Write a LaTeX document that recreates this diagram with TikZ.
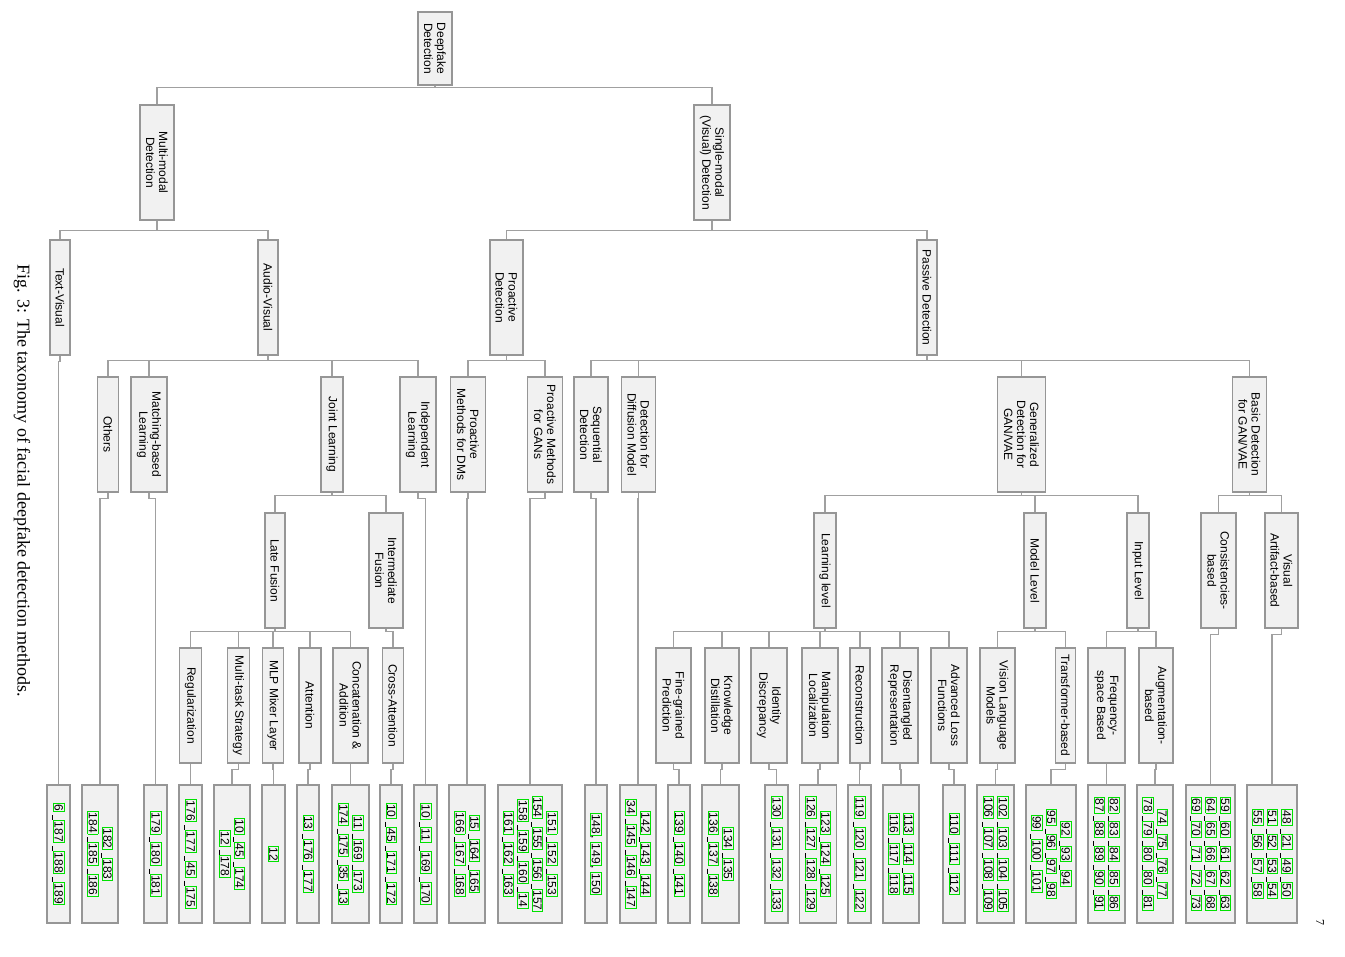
\documentclass[tikz,border=0pt]{standalone}
\usepackage{fontspec}
\setmainfont{Liberation Sans}
\newfontfamily\capfont{Liberation Serif}
\definecolor{boxfill}{RGB}{241,241,241}
\definecolor{boxdraw}{RGB}{150,150,150}
\definecolor{linec}{RGB}{160,160,160}
\definecolor{citegreen}{RGB}{0,225,0}
\setlength\fboxsep{0.6pt}
\setlength\fboxrule{0.9pt}
\newcommand\cb[1]{{\color{citegreen}\fbox{\color{black}#1}}}
\newcommand\cbar{\hspace{3pt}\rule[-2.2pt]{5pt}{0.6pt}}
\makeatletter
\newcommand\cl[1]{\def\clsep{\def\clsep{\cbar}}\@for\clitem:=#1\do{\clsep\cb{\clitem}}}
\makeatother
\newcommand\tedge[3]{\draw[conn] (#1.east) -- ++(0,#3) -| (#2.west);}
\begin{document}
\begin{tikzpicture}[x=1pt,y=-1pt,
  box/.style={draw=boxdraw, fill=boxfill, line width=1.1pt, rotate=-90, align=center,
    inner sep=1pt, font=\fontsize{12}{13}\selectfont, minimum width=115pt},
  leaf/.style={box, minimum width=138pt, font=\fontsize{12}{14.5}\selectfont},
  conn/.style={draw=linec, line width=1.1pt}]
\useasboundingbox (0,0) rectangle (1345,957);
% level 0
\node[box, minimum width=73pt, minimum height=34pt] (root) at (435,48.5) {Deepfake\\Detection};
% level 1
\node[box, minimum height=34pt] (mm) at (157,162.5) {Multi-modal\\Detection};
\node[box, minimum height=36pt] (sm) at (712,162.5) {Single-modal\\(Visual) Detection};
% level 2
\node[box, minimum height=20pt] (tv) at (60,297.5) {Text-Visual};
\node[box, minimum height=20pt] (av) at (268,297.5) {Audio-Visual};
\node[box, minimum height=33pt] (pro) at (506.5,297.5) {Proactive\\Detection};
\node[box, minimum height=20pt] (pas) at (927,297.5) {Passive Detection};
% level 3
\node[box, minimum height=21pt] (oth) at (108,434.5) {Others};
\node[box, minimum height=36pt] (mat) at (149,434.5) {Matching-based\\Learning};
\node[box, minimum height=22pt] (joi) at (332,434.5) {Joint Learning};
\node[box, minimum height=36pt] (ind) at (418,434.5) {Independent\\Learning};
\node[box, minimum height=35pt] (pdm) at (468,434.5) {Proactive\\Methods for DMs};
\node[box, minimum height=35pt] (pgan) at (545,434.5) {Proactive Methods\\for GANs};
\node[box, minimum height=34pt] (seq) at (591,434.5) {Sequential\\Detection};
\node[box, minimum height=34pt] (dif) at (638.5,434.5) {Detection for\\Diffusion Model};
\node[box, minimum height=48pt] (gen) at (1021.5,434.5) {Generalized\\Detection for\\GAN/VAE};
\node[box, minimum height=34pt] (bas) at (1249.5,434.5) {Basic Detection\\for GAN/VAE};
% level 4
\node[box, minimum height=20pt] (lat) at (275,570.5) {Late Fusion};
\node[box, minimum height=34pt] (int) at (386,570.5) {Intermediate\\Fusion};
\node[box, minimum height=22pt] (lrn) at (825,570.5) {Learning level};
\node[box, minimum height=22pt] (mdl) at (1035,570.5) {Model Level};
\node[box, minimum height=22pt] (inp) at (1138,570.5) {Input Level};
\node[box, minimum height=35pt] (con) at (1218.5,570.5) {Consistencies-\\based};
\node[box, minimum height=33pt] (vis) at (1281.5,570.5) {Visual\\Artifact-based};
% level 5
\node[box, minimum height=22pt] (reg) at (190.5,705.5) {Regularization};
\node[box, minimum height=22pt] (mts) at (238.5,705.5) {Multi-task Strategy};
\node[box, minimum height=21pt] (mlp) at (273,705.5) {MLP Mixer Layer};
\node[box, minimum height=22pt] (att) at (310,705.5) {Attention};
\node[box, minimum height=35pt] (cat) at (350.5,705.5) {Concatenation \&\\Addition};
\node[box, minimum height=21pt] (cra) at (393,705.5) {Cross-Attention};
\node[box, minimum height=35pt] (fgp) at (673.5,705.5) {Fine-grained\\Prediction};
\node[box, minimum height=34pt] (kdi) at (722,705.5) {Knowledge\\Distillation};
\node[box, minimum height=36pt] (idd) at (769,705.5) {Identity\\Discrepancy};
\node[box, minimum height=36pt] (mlo) at (820,705.5) {Manipulation\\Localization};
\node[box, minimum height=20pt] (rec) at (860,705.5) {Reconstruction};
\node[box, minimum height=36pt] (dre) at (900,705.5) {Disentangled\\Representation};
\node[box, minimum height=36pt] (alf) at (949,705.5) {Advanced Loss\\Functions};
\node[box, minimum height=35pt] (vlm) at (997.5,705.5) {Vision Language\\Models};
\node[box, minimum height=20pt] (tfb) at (1065.5,705.5) {Transformer-based};
\node[box, minimum height=37pt] (fsb) at (1106.5,705.5) {Frequency-\\space Based};
\node[box, minimum height=34pt] (aug) at (1156,705.5) {Augmentation-\\based};
% leaves
\node[leaf, minimum height=23pt] (lA) at (58.5,854) {\cl{6,187,188,189}};
\node[leaf, minimum height=36pt] (lB) at (100,854) {\cl{182,183}\\\cl{184,185,186}};
\node[leaf, minimum height=23pt] (lC) at (155.5,854) {\cl{179,180,181}};
\node[leaf, minimum height=23pt] (lD) at (190.5,854) {\cl{176,177,45,175}};
\node[leaf, minimum height=36pt] (lE) at (232,854) {\cl{10,45,174}\\\cl{12,178}};
\node[leaf, minimum height=23pt] (lF) at (273.5,854) {\cl{12}};
\node[leaf, minimum height=22pt] (lG) at (308,854) {\cl{13,176,177}};
\node[leaf, minimum height=37pt] (lH) at (350.5,854) {\cl{11,169,173}\\\cl{174,175,35,13}};
\node[leaf, minimum height=22pt] (lI) at (391,854) {\cl{10,45,171,172}};
\node[leaf, minimum height=23pt] (lJ) at (425.5,854) {\cl{10,11,169,170}};
\node[leaf, minimum height=36pt] (lK) at (467,854) {\cl{15,164,165}\\\cl{166,167,168}};
\node[leaf, minimum height=64pt] (lL) at (530,854) {\cl{151,152,153}\\\cl{154,155,156,157}\\\cl{158,159,160,14}\\\cl{161,162,163}};
\node[leaf, minimum height=22pt] (lM) at (596,854) {\cb{148}, \cb{149}, \cb{150}};
\node[leaf, minimum height=36pt] (lN) at (638,854) {\cl{142,143,144}\\\cl{34,145,146,147}};
\node[leaf, minimum height=22pt] (lO) at (679,854) {\cl{139,140,141}};
\node[leaf, minimum height=37pt] (lP) at (720.5,854) {\cl{134,135}\\\cl{136,137,138}};
\node[leaf, minimum height=23pt] (lQ) at (776.5,854) {\cl{130,131,132,133}};
\node[leaf, minimum height=37pt] (lR) at (818,854) {\cl{123,124,125}\\\cl{126,127,128,129}};
\node[leaf, minimum height=23pt] (lS) at (859.5,854) {\cl{119,120,121,122}};
\node[leaf, minimum height=36pt] (lT) at (901,854) {\cl{113,114,115}\\\cl{116,117,118}};
\node[leaf, minimum height=22pt] (lU) at (954,854) {\cl{110,111,112}};
\node[leaf, minimum height=37pt] (lV) at (995.5,854) {\cl{102,103,104,105}\\\cl{106,107,108,109}};
\node[leaf, minimum height=50pt] (lW) at (1051,854) {\cl{92,93,94}\\\cl{95,96,97,98}\\\cl{99,100,101}};
\node[leaf, minimum height=37pt] (lX) at (1106.5,854) {\cl{82,83,84,85,86}\\\cl{87,88,89,90,91}};
\node[leaf, minimum height=36pt] (lY) at (1155,854) {\cl{74,75,76,77}\\\cl{78,79,80,80,81}};
\node[leaf, minimum height=49pt] (lZ) at (1210.5,854) {\cl{59,60,61,62,63}\\\cl{64,65,66,67,68}\\\cl{69,70,71,72,73}};
\node[leaf, minimum height=50pt] (lAA) at (1272,854) {\cl{48,21,49,50}\\\cl{51,52,53,54}\\\cl{55,56,57,58}};
% caption and page number
\node[rotate=-90, font=\capfont\fontsize{18}{20}\selectfont] (cap) at (22,481) {Fig. 3: The taxonomy of facial deepfake detection methods.};
\node[rotate=-90, font=\capfont\fontsize{12}{12}\selectfont] (pg) at (1320,922) {7};
% tree connectors
\tedge{root}{mm}{2} \tedge{root}{sm}{2}
\tedge{mm}{tv}{10} \tedge{mm}{av}{10}
\tedge{sm}{pro}{10} \tedge{sm}{pas}{10}
\tedge{av}{oth}{5} \tedge{av}{mat}{5} \tedge{av}{joi}{5} \tedge{av}{ind}{5}
\tedge{pro}{pdm}{5} \tedge{pro}{pgan}{5}
\tedge{pas}{seq}{5} \tedge{pas}{dif}{5} \tedge{pas}{gen}{5} \tedge{pas}{bas}{5}
\tedge{joi}{lat}{3} \tedge{joi}{int}{3}
\tedge{gen}{lrn}{3} \tedge{gen}{mdl}{3} \tedge{gen}{inp}{3}
\tedge{bas}{con}{3} \tedge{bas}{vis}{3}
\tedge{lat}{reg}{3} \tedge{lat}{mts}{3} \tedge{lat}{mlp}{3} \tedge{lat}{att}{3} \tedge{lat}{cat}{3}
\tedge{int}{cra}{3}
\tedge{lrn}{fgp}{3} \tedge{lrn}{kdi}{3} \tedge{lrn}{idd}{3} \tedge{lrn}{mlo}{3}
\tedge{lrn}{rec}{3} \tedge{lrn}{dre}{3} \tedge{lrn}{alf}{3}
\tedge{mdl}{vlm}{3} \tedge{mdl}{tfb}{3}
\tedge{inp}{fsb}{3} \tedge{inp}{aug}{3}
% leaf connectors
\tedge{tv}{lA}{6} \tedge{oth}{lB}{6} \tedge{mat}{lC}{6} \tedge{reg}{lD}{6}
\tedge{mts}{lE}{6} \tedge{mlp}{lF}{6} \tedge{att}{lG}{6} \tedge{cat}{lH}{6}
\tedge{cra}{lI}{6} \tedge{ind}{lJ}{6} \tedge{pdm}{lK}{6} \tedge{pgan}{lL}{6}
\tedge{seq}{lM}{6} \tedge{dif}{lN}{6} \tedge{fgp}{lO}{6} \tedge{kdi}{lP}{6}
\tedge{idd}{lQ}{6} \tedge{mlo}{lR}{6} \tedge{rec}{lS}{6} \tedge{dre}{lT}{6}
\tedge{alf}{lU}{6} \tedge{vlm}{lV}{6} \tedge{tfb}{lW}{6} \tedge{fsb}{lX}{6}
\tedge{aug}{lY}{6} \tedge{con}{lZ}{6} \tedge{vis}{lAA}{6}
\end{tikzpicture}
\end{document}
